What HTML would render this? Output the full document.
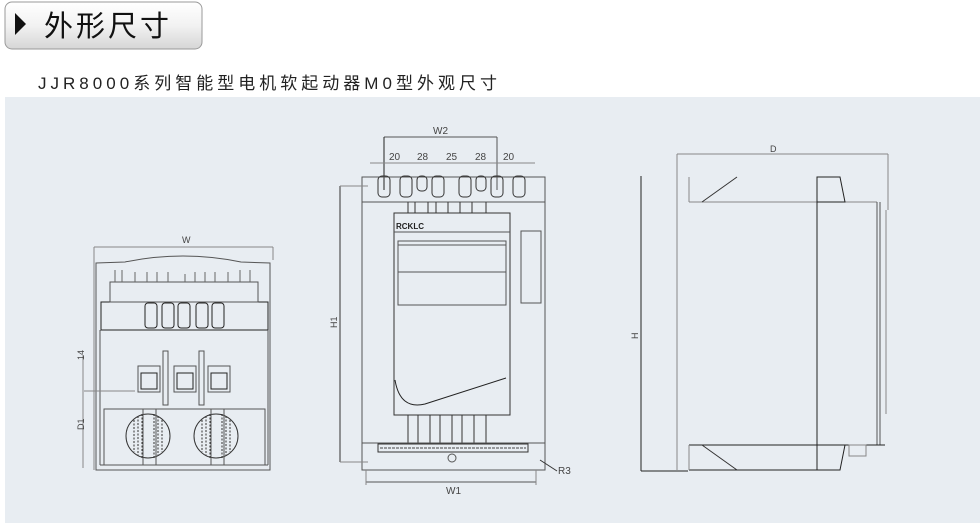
<!DOCTYPE html>
<html><head><meta charset="utf-8"><style>
body{margin:0;width:980px;height:523px;background:#fff;overflow:hidden;font-family:"Liberation Sans","Noto Sans CJK SC",sans-serif}
</style></head><body>
<svg width="980" height="523" viewBox="0 0 980 523" xmlns="http://www.w3.org/2000/svg" font-family="Liberation Sans, Noto Sans CJK SC, sans-serif">
<defs><linearGradient id="g" x1="0" y1="0" x2="0" y2="1"><stop offset="0" stop-color="#ffffff"/><stop offset="0.5" stop-color="#f2f2f2"/><stop offset="1" stop-color="#d6d6d6"/></linearGradient></defs>
<rect x="5" y="2" width="197" height="47" rx="7" fill="url(#g)" stroke="#9a9a9a"/>
<polygon points="15,13 26,24 15,35" fill="#111"/>
<text x="44" y="36" font-size="29" fill="#111" letter-spacing="3">外形尺寸</text>
<text x="38" y="89" font-size="17" fill="#222" textLength="459" lengthAdjust="spacing">JJR8000系列智能型电机软起动器M0型外观尺寸</text>
<rect x="5" y="97" width="975" height="426" fill="#e8edf2"/>
<g fill="none" stroke="#555" stroke-width="1">
<!-- front view -->
<line x1="94" y1="247" x2="273" y2="247" stroke="#888"/>
<text x="182" y="243" font-size="9" fill="#444" stroke="none">W</text>
<line x1="94" y1="247" x2="94" y2="470" stroke="#888"/>
<line x1="273" y1="247" x2="273" y2="260" stroke="#888"/>
<path d="M96 263 L125 262 Q183 250 241 262 L270 263 L270 470 L96 470 Z"/>
<rect x="101" y="302" width="167" height="28" stroke="#222"/>
<rect x="110" y="282" width="148" height="20"/>
<g stroke="#666"><path d="M115 270v12M122 270v12M135 272v10M147 272v10M157 272v10M168 272v10M185 274v8M195 272v10M205 272v10M215 272v10M228 272v10M240 270v12M250 270v12"/></g>
<rect x="145" y="303" width="12" height="25" rx="3" stroke="#222"/>
<rect x="162" y="303" width="12" height="25" rx="3" stroke="#222"/>
<rect x="178" y="303" width="12" height="25" rx="3" stroke="#222"/>
<rect x="196" y="303" width="12" height="25" rx="3" stroke="#222"/>
<rect x="212" y="303" width="12" height="25" rx="3" stroke="#222"/>
<line x1="100" y1="330" x2="100" y2="465"/><line x1="268" y1="330" x2="268" y2="465"/>
<line x1="100" y1="465" x2="268" y2="465"/>
<rect x="163" y="351" width="5" height="54"/><rect x="199" y="351" width="5" height="54"/>
<rect x="138" y="366" width="22" height="26"/><rect x="174" y="366" width="22" height="26"/><rect x="208" y="366" width="22" height="26"/>
<rect x="141" y="373" width="16" height="16" stroke="#222"/><rect x="177" y="373" width="16" height="16" stroke="#222"/><rect x="211" y="373" width="16" height="16" stroke="#222"/>
<rect x="104" y="409" width="161" height="56"/>
<circle cx="148" cy="436" r="22" stroke="#333"/><circle cx="216" cy="436" r="22" stroke="#333"/>
<g stroke="#333" stroke-dasharray="2 1.5"><path d="M134 420v32M138 416v40M142 414v44M154 414v44M158 416v40M162 420v32M202 420v32M206 416v40M210 414v44M222 414v44M226 416v40M230 420v32"/></g>
<rect x="143" y="409" width="13" height="56"/><rect x="211" y="409" width="13" height="56"/>
<line x1="84" y1="391" x2="135" y2="391" stroke="#888"/>
<line x1="83" y1="355" x2="83" y2="468" stroke="#888"/>
<text x="86" y="370" font-size="9" fill="#444" stroke="none" transform="rotate(-90 80 366)">14</text>
<text x="86" y="440" font-size="9" fill="#444" stroke="none" transform="rotate(-90 80 436)">D1</text>
<!-- middle view -->
<line x1="384" y1="137" x2="497" y2="137"/>
<text x="433" y="134" font-size="10" fill="#444" stroke="none">W2</text>
<line x1="384" y1="137" x2="384" y2="190" stroke="#222"/><line x1="497" y1="137" x2="497" y2="190"/>
<line x1="370" y1="163" x2="535" y2="163" stroke="#888"/>
<g font-size="10" fill="#444" stroke="none"><text x="389" y="160">20</text><text x="417" y="160">28</text><text x="446" y="160">25</text><text x="475" y="160">28</text><text x="503" y="160">20</text></g>
<rect x="362" y="177" width="183" height="25"/>
<rect x="362" y="202" width="183" height="241"/>
<rect x="394" y="213" width="116" height="202" stroke="#333"/>
<line x1="394" y1="232" x2="510" y2="232"/><rect x="398" y="241" width="108" height="64"/>
<line x1="398" y1="245" x2="506" y2="245"/><line x1="398" y1="272" x2="506" y2="272"/>
<path d="M395 380 Q400 410 425 404 L506 378" stroke="#222"/>
<rect x="521" y="231" width="20" height="72"/>
<g stroke="#333"><rect x="378" y="176" width="12" height="21" rx="4"/><rect x="400" y="176" width="12" height="21" rx="4"/><rect x="417" y="176" width="10" height="15" rx="4"/><rect x="432" y="176" width="12" height="21" rx="4"/><rect x="459" y="176" width="12" height="21" rx="4"/><rect x="476" y="176" width="10" height="15" rx="4"/><rect x="491" y="176" width="12" height="21" rx="4"/><rect x="513" y="176" width="12" height="21" rx="4"/></g>
<g stroke="#333"><path d="M408 202v11M415 202v11M428 202v11M436 202v11M448 202v11M460 202v11M472 202v11M486 202v11"/><path d="M408 415v28M418 415v28M430 415v28M440 415v28M452 415v28M462 415v28M474 415v28M486 415v28"/></g>
<text x="396" y="229" font-size="8" fill="#222" stroke="none" font-weight="bold">RCKLC</text>
<rect x="362" y="443" width="183" height="27"/>
<rect x="378" y="444" width="150" height="8" stroke="#333"/>
<g stroke="#444" stroke-dasharray="3 1"><line x1="380" y1="448" x2="526" y2="448"/></g>
<circle cx="452" cy="458" r="4"/>
<line x1="340" y1="186" x2="340" y2="462" stroke="#333"/>
<text x="328" y="327" font-size="9" fill="#444" stroke="none" transform="rotate(-90 333 323)">H1</text>
<line x1="340" y1="186" x2="368" y2="186" stroke="#888"/><line x1="340" y1="462" x2="368" y2="462" stroke="#888"/>
<line x1="366" y1="482" x2="536" y2="482"/>
<line x1="366" y1="470" x2="366" y2="485" stroke="#888"/><line x1="536" y1="470" x2="536" y2="485" stroke="#888"/>
<text x="446" y="494" font-size="10" fill="#444" stroke="none">W1</text>
<line x1="540" y1="460" x2="557" y2="471" stroke="#333"/>
<text x="558" y="474" font-size="10" fill="#444" stroke="none">R3</text>
<!-- side view -->
<line x1="677" y1="154" x2="888" y2="154" stroke="#888"/>
<text x="770" y="152" font-size="9" fill="#444" stroke="none">D</text>
<line x1="677" y1="154" x2="677" y2="470" stroke="#888"/><line x1="888" y1="154" x2="888" y2="210" stroke="#888"/>
<line x1="641" y1="176" x2="641" y2="471" stroke="#222"/>
<text x="629" y="338" font-size="9" fill="#444" stroke="none" transform="rotate(-90 634 334)">H</text>
<line x1="641" y1="471" x2="688" y2="471" stroke="#222"/>
<line x1="689" y1="177" x2="689" y2="202" stroke="#888"/><line x1="689" y1="202" x2="877" y2="202" stroke="#888"/>
<line x1="702" y1="202" x2="737" y2="177" stroke="#333"/>
<path d="M817 177 L840 177 L845 202 L817 202 Z" stroke="#222"/>
<line x1="817" y1="202" x2="817" y2="445" stroke="#222"/>
<line x1="877" y1="202" x2="877" y2="445"/><line x1="880" y1="202" x2="880" y2="445"/><line x1="886" y1="210" x2="886" y2="414" stroke="#888"/>
<line x1="689" y1="445" x2="885" y2="445" stroke="#222"/>
<path d="M817 445 L845 445 L840 470 L817 470 Z" stroke="#222"/>
<line x1="702" y1="445" x2="737" y2="470" stroke="#333"/>
<line x1="689" y1="470" x2="817" y2="470" stroke="#222"/><line x1="689" y1="445" x2="689" y2="470" stroke="#888"/>
<rect x="849" y="445" width="17" height="11" stroke="#888"/>
</g>
</svg>
</body></html>
